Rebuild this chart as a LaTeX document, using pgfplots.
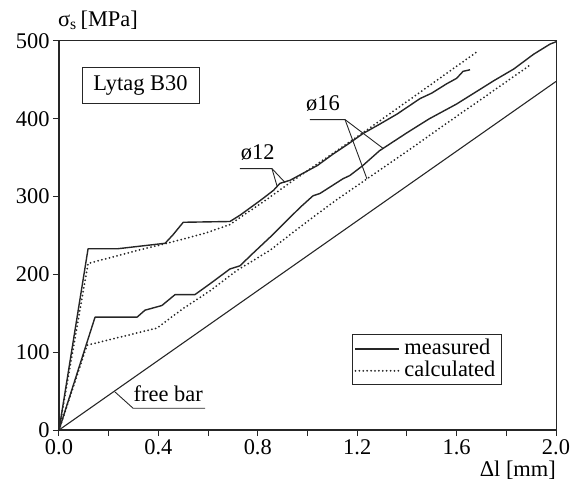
\documentclass[border=0pt]{standalone}
\usepackage{fontspec}
\setmainfont{Liberation Serif}
\usepackage{pgfplots}
\pgfplotsset{compat=1.18}
\newcommand{\fs}{\fontsize{22.5}{26}\selectfont}
\pgfplotsset{
  meas/.style={black!85, line width=1.4bp, line join=round},
  calc/.style={black!85, line width=2bp, line cap=round, dash pattern=on 0bp off 3.9bp},
  ptr/.style={black!85, line width=0.9bp, forget plot},
}
\begin{document}
\begin{tikzpicture}
\begin{axis}[
  at={(0,0)}, anchor=south west,
  scale only axis, width=497bp, height=389bp,
  xmin=0, xmax=2, ymin=0, ymax=500,
  enlargelimits=false, clip=false,
  axis x line*=bottom, axis y line*=left,
  x axis line style={line width=2.4bp, black!85},
  y axis line style={line width=2.6bp, black!85},
  xtick={0,0.4,0.8,1.2,1.6,2.0},
  minor xtick={0.2,0.6,1.0,1.4,1.8},
  ytick={0,100,200,300,400,500},
  tick align=outside,
  major tick length=6bp, minor tick length=6bp,
  tick style={black!85, line width=1bp},
  /pgf/number format/assume math mode=true,
  tick label style={font=\fs, black},
  xticklabel style={/pgf/number format/.cd, fixed, fixed zerofill, precision=1},
  yticklabel style={/pgf/number format/.cd, fixed, precision=0},
  legend style={at={(0.5895,0.246)}, anchor=north west, draw=black!85, line width=1bp,
    font=\fs, inner xsep=2bp, inner ysep=3bp, row sep=0bp,
    nodes={inner ysep=1.5bp, inner xsep=4bp, text height=15bp, text depth=4bp}},
  legend cell align=left,
  legend image code/.code={\draw[#1] (0bp,0bp) -- (44bp,0bp);},
]
% frame top and right (thin)
\addplot[black!85, line width=1bp, forget plot] coordinates {(0,500) (2,500) (2,0)};

% free bar
\addplot[black!85, line width=1.1bp, forget plot] coordinates {(0,0) (2.0,448)};

% phi 12 measured
\addplot[meas, forget plot] coordinates {
(0,0) (0.117,233) (0.237,233) (0.427,240) (0.459,251) (0.50,267) (0.688,268)
(0.728,276) (0.81,295) (0.863,308) (0.889,317) (0.93,321) (1.04,340) (1.10,354)
(1.17,369) (1.223,381) (1.29,393) (1.36,406) (1.453,426) (1.50,433) (1.56,445)
(1.60,452) (1.626,461) (1.654,463)};

% phi 12 calculated
\addplot[calc, forget plot] coordinates {
(0,0) (0.117,214) (0.318,231) (0.447,241) (0.588,253) (0.688,264) (0.728,273)
(0.83,295) (0.93,318) (1.223,382) (1.686,487)};

% phi 16 measured
\addplot[meas, forget plot] coordinates {
(0,0) (0.145,145) (0.314,145) (0.346,154) (0.414,160) (0.467,174) (0.547,174)
(0.608,188) (0.688,207) (0.728,211) (0.78,227) (0.85,248) (0.97,286) (1.022,301)
(1.05,304) (1.143,323) (1.17,327) (1.223,340) (1.29,359) (1.40,382) (1.49,400)
(1.60,419) (1.75,449) (1.83,464) (1.91,483) (1.976,496) (2.0,499)};

% phi 16 calculated
\addplot[calc, forget plot] coordinates {
(0,0) (0.113,109) (0.394,131) (0.499,156) (0.608,179) (0.716,205) (0.849,231)
(0.97,261) (1.10,292) (1.24,323) (1.40,358) (1.55,392) (1.73,432) (1.90,470)};

% pointers
\addplot[ptr] coordinates {(0.728,336) (0.857,336) (0.877,314)};
\addplot[ptr] coordinates {(0.857,336) (0.91,318)};
\addplot[ptr] coordinates {(1.01,399) (1.151,399) (1.304,362)};
\addplot[ptr] coordinates {(1.151,399) (1.239,323)};
\addplot[ptr] coordinates {(0.225,49) (0.298,28) (0.588,28)};

\addlegendimage{meas}
\addlegendentry{measured}
\addlegendimage{calc}
\addlegendentry{calculated}

% text
\node[font=\fs] at (axis cs:0.80,356) {ø12};
\node[font=\fs] at (axis cs:1.062,420) {ø16};
\node[font=\fs, anchor=base west, inner sep=0pt] at (axis cs:0.30,36) {free bar};
\node[font=\fs, draw=black!85, line width=1bp, minimum width=117bp, minimum height=36bp] at (axis cs:0.328,443) {Lytag B30};
\node[font=\fs] at (axis cs:0.157,527) {σ\textsubscript{s}\,[MPa]};
\node[font=\fs, anchor=east, inner sep=0pt] at (axis cs:2.0,-52) {Δl [mm]};
\end{axis}
\pgfresetboundingbox
\path[use as bounding box] (-59bp,-58bp) rectangle (519bp,430bp);
\end{tikzpicture}
\end{document}
